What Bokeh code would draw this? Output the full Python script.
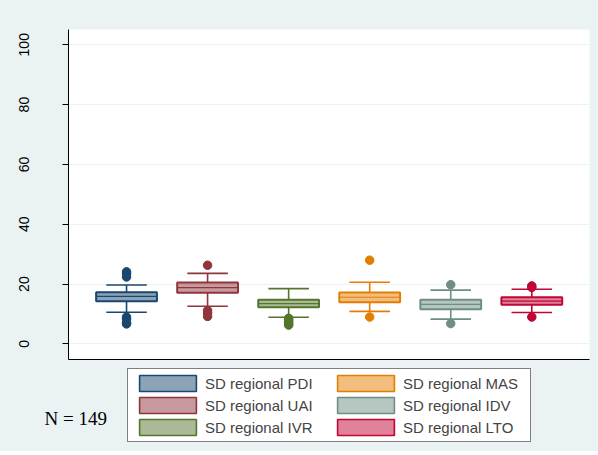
from bokeh.plotting import figure
from bokeh.layouts import column
from bokeh.models import Range1d, FixedTicker, Legend, LegendItem, Label
from bokeh.embed import file_html
from bokeh.resources import INLINE

# ---- data ----
categories = ["SD regional PDI", "SD regional UAI", "SD regional IVR",
              "SD regional MAS", "SD regional IDV", "SD regional LTO"]
q1 = [14.3, 17.1, 12.3, 13.9, 11.6, 13.1]
median = [15.9, 18.8, 13.5, 15.6, 13.2, 14.3]
q3 = [17.3, 20.5, 14.8, 17.2, 14.8, 15.6]
whisker_low = [10.6, 12.6, 8.9, 10.9, 8.3, 10.5]
whisker_high = [19.7, 23.6, 18.5, 20.6, 18.0, 18.3]
outliers = [
    [24.1, 23.4, 22.4, 9.0, 8.3, 7.0, 6.7],
    [26.3, 11.2, 10.3, 9.2],
    [8.6, 8.1, 7.6, 7.1, 6.6, 6.3],
    [28.0, 9.0],
    [19.8, 6.8],
    [19.4, 18.9, 9.0],
]
y_ticks = [0, 20, 40, 60, 80, 100]
n_obs = 149

colors = ["#1a476f", "#90353b", "#55752f", "#e37e00", "#6e8e84", "#c10534"]
BG = "#EAF2F3"

p = figure(width=589, height=350, output_backend="svg", toolbar_location=None,
           x_range=Range1d(-0.716, 5.712), y_range=Range1d(-5.2, 105.1),
           min_border_left=59, min_border_right=9, min_border_top=17,
           min_border_bottom=3)
p.margin = (12, 0, 0, 9)
p.frame_align = False
p.border_fill_color = BG
p.background_fill_color = "white"
p.outline_line_color = None

p.xgrid.visible = False
p.ygrid.grid_line_color = BG
p.ygrid.grid_line_width = 1
p.ygrid.ticker = FixedTicker(ticks=y_ticks)

p.yaxis.ticker = FixedTicker(ticks=y_ticks)
p.yaxis.major_label_orientation = "vertical"
p.yaxis.major_label_text_font = "Liberation Sans"
p.yaxis.major_label_text_font_size = "14px"
p.yaxis.major_label_text_color = "black"
p.yaxis.major_label_standoff = 33
p.yaxis.major_tick_out = 6
p.yaxis.major_tick_in = 0
p.yaxis.minor_tick_line_color = None
p.yaxis.axis_line_color = "black"
p.yaxis.major_tick_line_color = "black"

p.xaxis.ticker = FixedTicker(ticks=[])
p.xaxis.major_label_text_font_size = "1px"
p.xaxis.major_label_text_color = None
p.xaxis.major_label_standoff = 0
p.xaxis.major_tick_out = 0
p.xaxis.major_tick_line_color = None
p.xaxis.minor_tick_line_color = None
p.xaxis.axis_line_color = "black"

box_w = 0.75
cap_w = 0.5
for i, cat in enumerate(categories):
    c = colors[i]
    p.segment(x0=[i, i], y0=[q3[i], q1[i]], x1=[i, i], y1=[whisker_high[i], whisker_low[i]],
              line_color=c, line_width=1.6)
    p.segment(x0=[i - cap_w / 2] * 2, x1=[i + cap_w / 2] * 2,
              y0=[whisker_high[i], whisker_low[i]], y1=[whisker_high[i], whisker_low[i]],
              line_color=c, line_width=1.6)
    p.quad(left=[i - box_w / 2], right=[i + box_w / 2], bottom=[q1[i]], top=[q3[i]],
           fill_color=c, fill_alpha=0.5, line_color=c, line_width=2)
    p.segment(x0=[i - box_w / 2], x1=[i + box_w / 2], y0=[median[i]], y1=[median[i]],
              line_color=c, line_width=1.2)
    p.scatter(x=[i] * len(outliers[i]), y=outliers[i], size=8.5,
              fill_color=c, line_color=c)

# ---- legend / note panel ----
q = figure(width=589, height=89, output_backend="svg", toolbar_location=None,
           x_range=Range1d(0, 1), y_range=Range1d(0, 1),
           x_axis_location=None, y_axis_location=None,
           min_border=0, min_border_left=0, min_border_right=0,
           min_border_top=0, min_border_bottom=0)
q.margin = (0, 0, 0, 9)
q.frame_align = False
q.border_fill_color = BG
q.background_fill_color = BG
q.outline_line_color = None
q.xgrid.visible = False
q.ygrid.visible = False

nan = float("nan")
items = []
for i, cat in enumerate(categories):
    c = colors[i]
    # swatch-only renderer (no visible data)
    r = q.quad(left=[nan], right=[nan], bottom=[nan], top=[nan],
               fill_color=c, fill_alpha=0.5, line_color=c, line_width=1.6)
    items.append(LegendItem(label=cat, renderers=[r]))

legend = Legend(items=items, orientation="vertical", nrows=3, location=(118, 9))
legend.border_line_color = "black"
legend.border_line_width = 1
legend.background_fill_color = "white"
legend.background_fill_alpha = 1
legend.label_text_font = "Liberation Sans"
legend.label_text_font_size = "15px"
legend.glyph_width = 71
legend.glyph_height = 20
legend.label_standoff = 2
legend.label_width = 123
legend.label_height = 20
legend.spacing = 2
legend.padding = 4
legend.margin = 0
q.add_layout(legend, "center")

q.add_layout(Label(x=35, y=33, x_units="screen", y_units="screen",
                   text="N = " + str(n_obs),
                   text_font="Liberation Serif", text_font_size="19px",
                   text_color="black", text_baseline="alphabetic"))

layout = column(p, q, spacing=0)
layout.background = BG
open("out.html", "w").write(file_html(layout, INLINE))
